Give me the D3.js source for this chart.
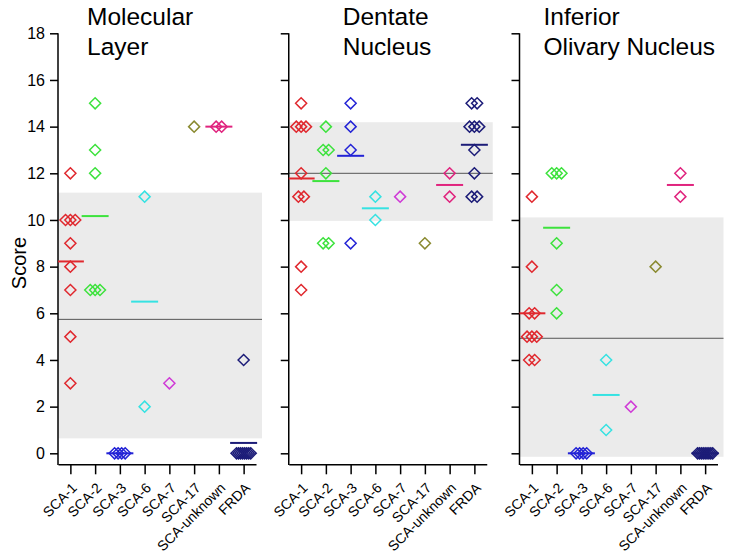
<!DOCTYPE html>
<html>
<head>
<meta charset="utf-8">
<script src="https://cdn.jsdelivr.net/npm/d3@7"></script>
<style>
  html, body { margin: 0; padding: 0; background: #fff; }
  svg { display: block; font-family: "Liberation Sans", Arial, sans-serif; }
</style>
</head>
<body>
<svg id="chart" width="729" height="556"></svg>
<script>
// ---------- data ----------
const categories = ["SCA-1", "SCA-2", "SCA-3", "SCA-6", "SCA-7", "SCA-17", "SCA-unknown", "FRDA"];
const panelTitles = [["Molecular", "Layer"], ["Dentate", "Nucleus"], ["Inferior", "Olivary Nucleus"]];
const yTicks = [0, 2, 4, 6, 8, 10, 12, 14, 16, 18];
const yLabel = "Score";

// scores per category (same order as categories)
const molecularLayer = [
  [12, 10, 10, 10, 9, 8, 7, 5, 3],
  [15, 13, 12, 7, 7, 7],
  [0, 0, 0, 0],
  [11, 2],
  [3],
  [14],
  [14, 14],
  [4, 0, 0, 0, 0, 0, 0, 0, 0]
];
const dentateNucleus = [
  [15, 14, 14, 14, 12, 11, 11, 8, 7],
  [14, 13, 13, 12, 9, 9],
  [15, 14, 13, 9],
  [11, 10],
  [11],
  [9],
  [12, 11],
  [15, 15, 14, 14, 14, 13, 12, 11, 11]
];
const inferiorOlivary = [
  [11, 8, 6, 6, 5, 5, 5, 4, 4],
  [12, 12, 12, 9, 7, 6],
  [0, 0, 0, 0],
  [4, 1],
  [2],
  [8],
  [12, 11],
  [0, 0, 0, 0, 0, 0, 0, 0, 0]
];
const panelData = [molecularLayer, dentateNucleus, inferiorOlivary];

// control range (grey band) and control mean
const controlLow = [0.64, 9.96, -0.15];
const controlHigh = [11.17, 14.19, 10.11];
const controlMean = [5.74, 12.0, 4.93];

const groupColors = ["#e0282e", "#3de23d", "#2323d6", "#36e2e2", "#cf3ad6", "#8a8a30", "#e0247e", "#1c1c78"];

// ---------- layout ----------
const svg = d3.select("#chart");
const yTop = 33.3, yZero = 453.3, xAxisY = 464.3;
const panelW = 198, panelGap = 230.75, firstLeft = 58;

const y = d3.scaleLinear().domain([0, 18]).range([yZero, yTop]);

// y label
svg.append("text")
  .attr("transform", `translate(19,263) rotate(-90)`)
  .attr("text-anchor", "middle")
  .attr("dominant-baseline", "central")
  .attr("font-size", 20)
  .text(yLabel);

panelData.forEach((groups, p) => {
  const left = firstLeft + p * panelGap;
  const x = d3.scalePoint().domain(categories).range([left, left + panelW]).padding(0.5);
  const g = svg.append("g");

  // grey control band
  g.append("rect")
    .attr("x", left).attr("width", panelW + 6)
    .attr("y", y(controlHigh[p]))
    .attr("height", y(controlLow[p]) - y(controlHigh[p]))
    .attr("fill", "#ebebeb");
  g.append("line")
    .attr("x1", left).attr("x2", left + panelW + 6)
    .attr("y1", y(controlMean[p])).attr("y2", y(controlMean[p]))
    .attr("stroke", "#555").attr("stroke-width", 1);

  // y axis
  const ya = d3.axisLeft(y).tickValues(yTicks).tickSize(8).tickPadding(5)
    .tickFormat(p === 0 ? d3.format("d") : () => "");
  const yg = g.append("g").attr("transform", `translate(${left},0)`).call(ya);
  yg.select(".domain").remove();
  yg.selectAll(".tick line").attr("stroke", "#000").attr("stroke-width", 1.5);
  yg.selectAll(".tick text").attr("font-size", 16).attr("fill", "#000")
    .attr("font-family", "Liberation Sans, Arial, sans-serif");
  g.append("line")
    .attr("x1", left).attr("x2", left)
    .attr("y1", yTop).attr("y2", xAxisY + 0.75)
    .attr("stroke", "#000").attr("stroke-width", 1.5);

  // x axis
  const xa = d3.axisBottom(x).tickSize(10).tickSizeOuter(0).tickFormat(() => "");
  const xg = g.append("g").attr("transform", `translate(0,${xAxisY})`).call(xa);
  xg.select(".domain").attr("stroke", "#000").attr("stroke-width", 1.5);
  xg.selectAll(".tick line").attr("stroke", "#000").attr("stroke-width", 1.5);
  categories.forEach(c => {
    g.append("text")
      .attr("transform", `translate(${x(c) + 4},${xAxisY + 21}) rotate(-45)`)
      .attr("text-anchor", "end")
      .attr("dy", "0.35em")
      .attr("font-size", 14)
      .text(c);
  });

  // title
  const tx = left + [29, 54, 24][p];
  const t = g.append("text").attr("x", tx).attr("y", 25).attr("font-size", 24.5);
  panelTitles[p].forEach((line, i) => {
    t.append("tspan").attr("x", tx).attr("dy", i === 0 ? 0 : 30).text(line);
  });

  // points with simple dodge for equal values
  const diamond = d3.symbol().type(d3.symbolDiamond2).size(78);
  groups.forEach((vals, ci) => {
    const cx = x(categories[ci]);
    const counts = d3.rollup(vals, v => v.length, d => d);
    const seen = new Map();
    const pts = vals.map(v => {
      const n = counts.get(v);
      const k = seen.get(v) || 0;
      seen.set(v, k + 1);
      const span = Math.min(5.5 * (n - 1), 7 + n * 0.9);
      const step = n > 1 ? span / (n - 1) : 0;
      return { v, dx: (k - (n - 1) / 2) * step };
    });
    g.selectAll(null).data(pts).enter().append("path")
      .attr("d", diamond)
      .attr("transform", d => `translate(${cx + d.dx},${y(d.v)})`)
      .attr("fill", "none")
      .attr("stroke", groupColors[ci])
      .attr("stroke-width", 1.5);
    if (vals.length > 1) {
      const m = d3.mean(vals);
      g.append("line")
        .attr("x1", Math.max(left, cx - 13.5)).attr("x2", cx + 13.5)
        .attr("y1", y(m)).attr("y2", y(m))
        .attr("stroke", groupColors[ci]).attr("stroke-width", 2);
    }
  });
});
</script>
</body>
</html>
